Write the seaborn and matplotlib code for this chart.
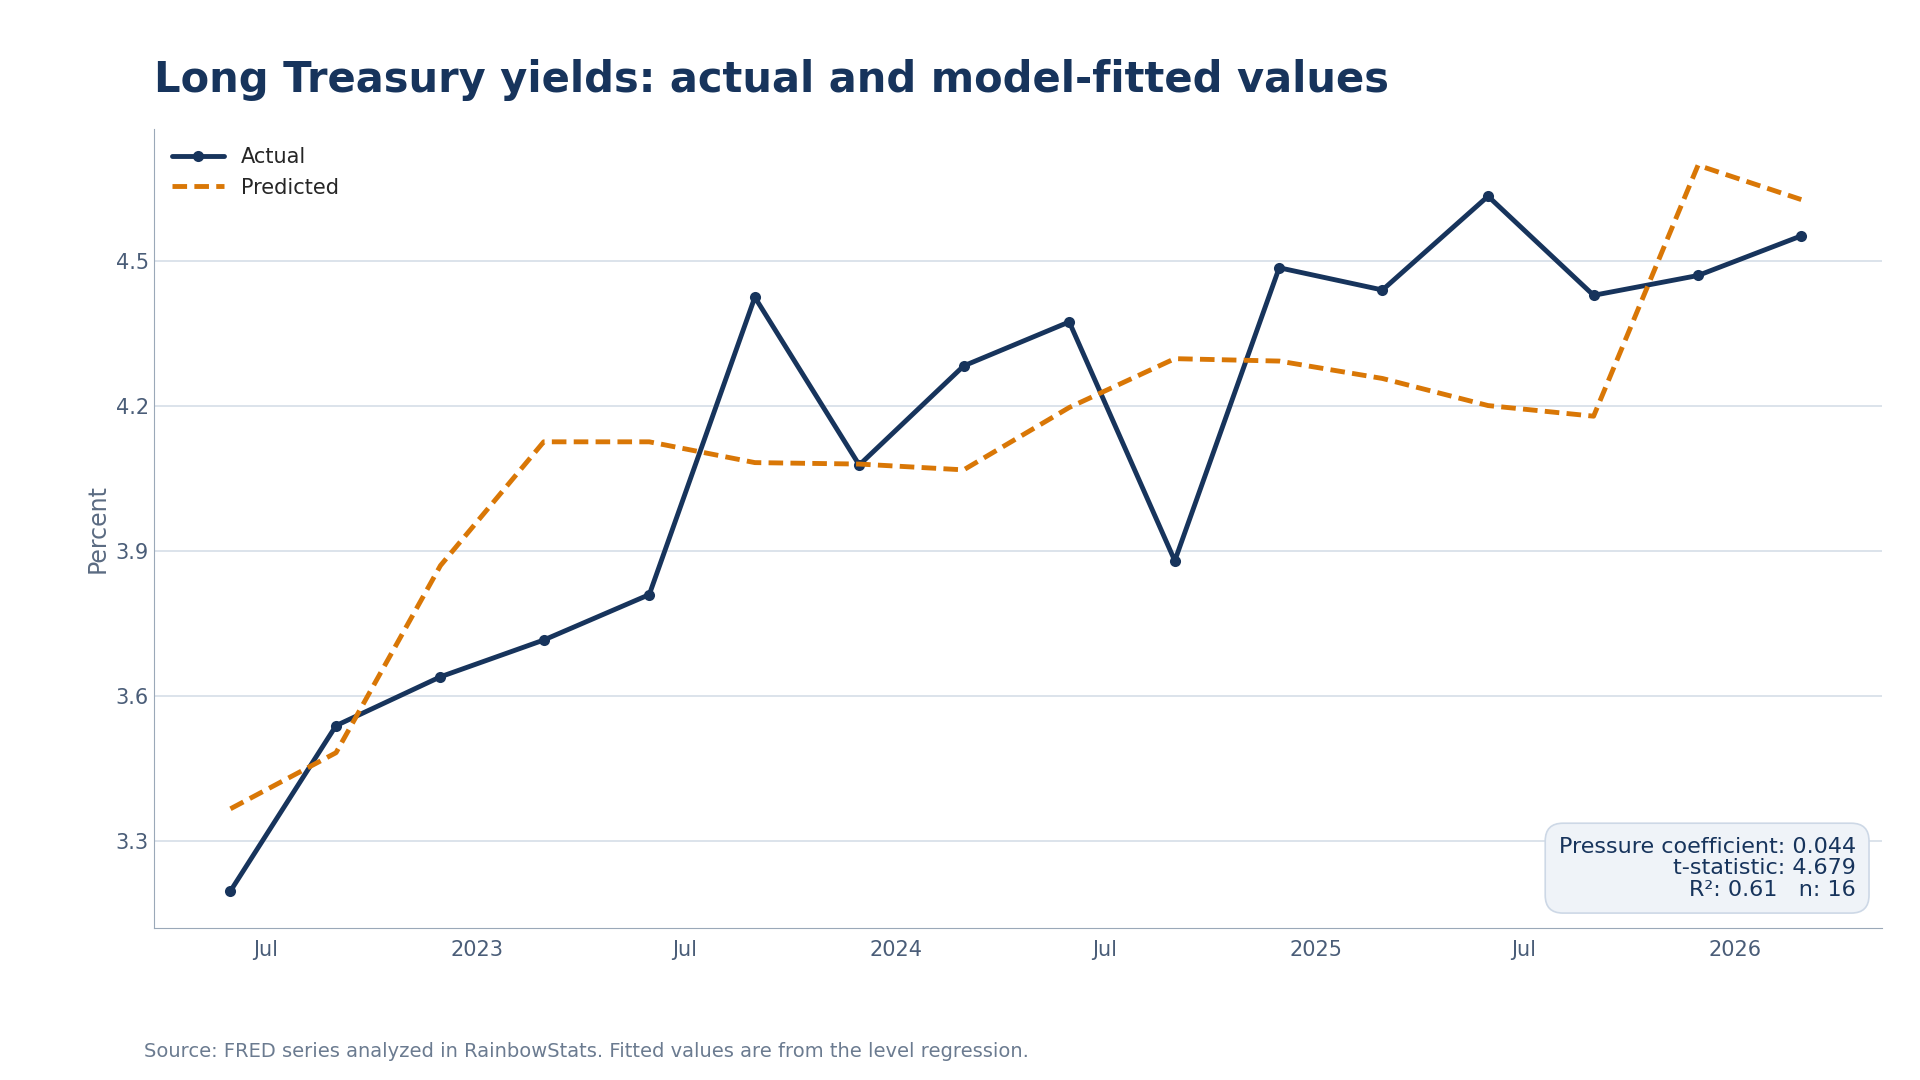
import matplotlib
matplotlib.use("Agg")
import matplotlib.pyplot as plt
import matplotlib.dates as mdates
import seaborn as sns
import pandas as pd

dates = pd.to_datetime([
    "2022-05-31", "2022-08-31", "2022-11-30", "2023-02-28",
    "2023-05-31", "2023-08-31", "2023-11-30", "2024-02-29",
    "2024-05-31", "2024-08-31", "2024-11-30", "2025-02-28",
    "2025-05-31", "2025-08-31", "2025-11-30", "2026-02-28",
])
actual = [3.196, 3.538, 3.639, 3.715, 3.809, 4.424, 4.077, 4.282,
          4.373, 3.879, 4.485, 4.439, 4.633, 4.428, 4.469, 4.551]
predicted = [3.366, 3.482, 3.869, 4.125, 4.125, 4.082, 4.079, 4.067,
             4.196, 4.297, 4.292, 4.256, 4.200, 4.178, 4.697, 4.626]

NAVY = "#17345c"
ORANGE = "#d97706"

sns.set_style("white")
plt.rcParams['font.family'] = ['DejaVu Sans']

df = pd.DataFrame({"date": dates, "Actual": actual, "Predicted": predicted})

fig = plt.figure(figsize=(19.2, 10.8), dpi=100)
ax = fig.add_axes([0.080, 0.141, 0.900, 0.740])

sns.lineplot(data=df, x="date", y="Actual", ax=ax, color=NAVY, linewidth=3.5,
             marker="o", markersize=8, markeredgewidth=0, label="Actual")
sns.lineplot(data=df, x="date", y="Predicted", ax=ax, color=ORANGE, linewidth=3.5,
             linestyle=(0, (3, 1.5)), label="Predicted")

ax.set_ylim(3.12, 4.773)
ax.set_xlim(pd.Timestamp("2022-03-25"), pd.Timestamp("2026-05-09"))
ax.set_yticks([3.3, 3.6, 3.9, 4.2, 4.5])
ax.set_yticklabels(["3.3", "3.6", "3.9", "4.2", "4.5"])
ax.xaxis.set_major_locator(mdates.MonthLocator(bymonth=[1, 7]))
ax.xaxis.set_major_formatter(mdates.ConciseDateFormatter(
    ax.xaxis.get_major_locator(), formats=['%Y', '%b', '%d', '%H:%M', '%H:%M', '%S.%f']))
ax.grid(axis="y", color="#d5dee8", linewidth=1.2)
ax.set_axisbelow(True)
for s in ["top", "right"]:
    ax.spines[s].set_visible(False)
for s in ["left", "bottom"]:
    ax.spines[s].set_color("#9aa8b8")
ax.tick_params(axis="both", colors="#4a5d78", labelsize=15, length=5)
ax.tick_params(axis="y", length=0)
ax.set_xlabel("")
ax.set_ylabel("Percent", fontsize=17, color="#5b6b82")

leg = ax.legend(loc="upper left", frameon=False, fontsize=15, handlelength=2.5)

ax.text(0.985, 0.035, "Pressure coefficient: 0.044\nt-statistic: 4.679\nR²: 0.61   n: 16",
        transform=ax.transAxes, ha="right", va="bottom", fontsize=16, color=NAVY,
        linespacing=1.1,
        bbox=dict(boxstyle="round,pad=0.6,rounding_size=0.8", facecolor="#eff3f8",
                  edgecolor="#cdd8e6", linewidth=1.2))

fig.text(0.080, 0.926, "Long Treasury yields: actual and model-fitted values",
         fontsize=30, fontweight="bold", color=NAVY, va="center")
fig.text(0.075, 0.026, "Source: FRED series analyzed in RainbowStats. Fitted values are from the level regression.",
         fontsize=14, color="#6b7b90", va="center")

fig.savefig("out.png", dpi=100)
